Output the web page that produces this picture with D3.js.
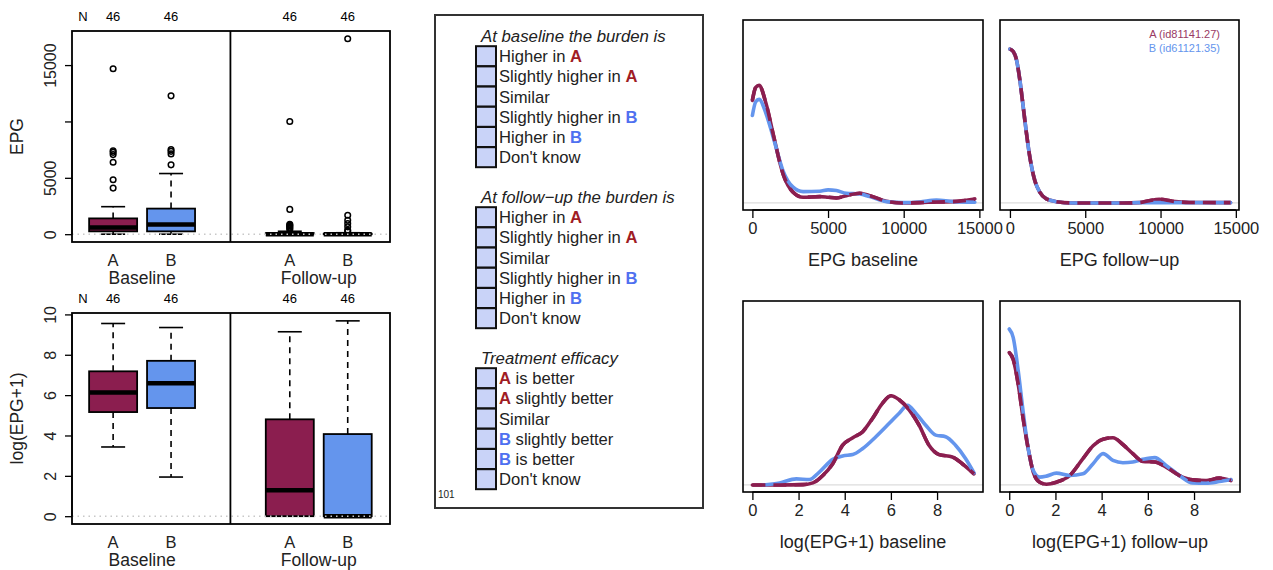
<!DOCTYPE html>
<html>
<head>
<meta charset="utf-8">
<script src="https://cdn.jsdelivr.net/npm/d3@7"></script>
<style>
  body { margin: 0; background: #fff; }
  svg text { font-family: "Liberation Sans", Arial, Helvetica, sans-serif; }
</style>
</head>
<body>
<svg id="chart" width="1273" height="570"></svg>
<script>
const colA = '#8b1e4f';
const colB = '#6495ed';

// ---- boxplot data ----
const boxLabels = ['A', 'B', 'A', 'B'];
const boxPos = [1, 2, 4.05, 5.05];
const timeLabels = ['Baseline', 'Follow-up'];
const nCounts = [46, 46, 46, 46];

const epgLow = [0, 0, 0, 0];
const epgQ1 = [250, 250, 0, 0];
const epgMed = [600, 850, 0, 0];
const epgQ3 = [1400, 2270, 90, 40];
const epgHigh = [2440, 5380, 260, 130];
const epgOut = [
  [4090, 4830, 6380, 7060, 7260, 7400, 14680],
  [6150, 7120, 7350, 7500, 12270],
  [400, 520, 620, 720, 800, 880, 2200, 10000],
  [250, 350, 650, 940, 1240, 1680, 17330]
];
const epgTicks = [0, 5000, 10000, 15000];
const epgTickLabels = ['0', '5000', '', '15000'];

const logLow = [3.43, 1.94, 0, 0];
const logQ1 = [5.16, 5.36, 0, 0];
const logMed = [6.13, 6.59, 1.28, 0];
const logQ3 = [7.18, 7.70, 4.80, 4.07];
const logHigh = [9.55, 9.35, 9.14, 9.68];
const logTicks = [0, 2, 4, 6, 8, 10];
const logTickLabels = ['0', '2', '4', '6', '8', '10'];

// ---- density data (relative density) ----
const epgBaseX = [0, 220, 440, 900, 1365, 2025, 2690, 3350, 4450, 5000, 5550, 6210, 7090, 7750, 8850, 9960, 11060, 12160, 13260, 14700];
const epgBaseA = [102, 115, 117, 99, 69, 29, 10.7, 5.7, 6.3, 5.7, 5, 7.3, 9.7, 7.3, 1.7, 0, 0.3, 1, 1.3, 4];
const epgBaseB = [87, 100.7, 103, 89, 66, 32, 15.7, 11.3, 11.7, 13, 12.3, 9.7, 9, 6.3, 1.3, 0.3, 1, 3, 1.3, 0.7];

const epgFollowX = [0, 220, 440, 660, 880, 1100, 1320, 1650, 1980, 2420, 3080, 4190, 5290, 7490, 8590, 9250, 9910, 10790, 11900, 14650];
const epgFollowA = [153, 150.7, 142, 122, 95.7, 69, 45.7, 22.3, 10.7, 4, 1.3, 0, 0, 0, 0.3, 2.3, 3.7, 1.7, 0.5, 0.3];
const epgFollowB = [153, 150.7, 142, 122, 95.7, 69, 45.7, 22.3, 10.7, 4, 1.3, 0, 0, 0, 0.3, 0.3, 0.3, 0.3, 0.3, 0.3];

const logBaseXA = [0, 1.18, 2.19, 2.62, 3.05, 3.48, 3.91, 4.35, 4.78, 5.21, 5.64, 6.0, 6.36, 6.79, 7.22, 7.65, 8.09, 8.66, 9.09, 9.6];
const logBaseA = [0, 0, 0.3, 2, 9.3, 21, 39.3, 46.7, 52.7, 66, 81, 88.3, 84.3, 74.3, 59.3, 39.3, 30, 27.7, 21, 11];
const logBaseXB = [0.46, 1.18, 1.9, 2.47, 2.9, 3.48, 3.91, 4.35, 4.78, 5.35, 5.93, 6.36, 6.72, 7.08, 7.5, 7.94, 8.37, 8.8, 9.24, 9.6];
const logBaseB = [0, 2, 6, 5.3, 12.7, 25.3, 28.7, 30, 36, 47.7, 61, 71, 78.7, 71, 59.3, 49.3, 47.7, 39.3, 26, 12];

const logFollowX = [0, 0.17, 0.39, 0.6, 0.82, 1.04, 1.32, 1.61, 2.04, 2.62, 3.19, 3.63, 4.06, 4.49, 4.92, 5.35, 5.78, 6.3, 6.79, 7.37, 7.94, 8.52, 9.09, 9.6];
const logFollowA = [131, 124.3, 99.3, 66, 36, 12.7, 2.7, 0.7, 2.7, 9.3, 26, 38.7, 45.3, 46.7, 40, 31, 23.3, 22.7, 17.7, 9.3, 5, 4.3, 6.7, 4.3];
const logFollowB = [154.3, 146, 112.7, 72.7, 36, 14.3, 7.7, 8.7, 11.7, 9.3, 11, 21, 31, 24.3, 22, 22.7, 25.3, 27, 19.3, 9.3, 2, 1.7, 3.3, 5.3];

const epgDensTicks = [0, 5000, 10000, 15000];
const logDensTicks = [0, 2, 4, 6, 8];
const legendLabels = ['A (id81141.27)', 'B (id61121.35)'];

// ---- questionnaire text ----
const sections = [
  { title: 'At baseline the burden is', y: 36,
    items: [['Higher in ', 'A', ''], ['Slightly higher in ', 'A', ''], ['Similar', '', ''],
            ['Slightly higher in ', 'B', ''], ['Higher in ', 'B', ''], ["Don't know", '', '']] },
  { title: 'At follow\u2212up the burden is', y: 197,
    items: [['Higher in ', 'A', ''], ['Slightly higher in ', 'A', ''], ['Similar', '', ''],
            ['Slightly higher in ', 'B', ''], ['Higher in ', 'B', ''], ["Don't know", '', '']] },
  { title: 'Treatment efficacy', y: 358,
    items: [['', 'A', ' is better'], ['', 'A', ' slightly better'], ['Similar', '', ''],
            ['', 'B', ' slightly better'], ['', 'B', ' is better'], ["Don't know", '', '']] }
];

const svg = d3.select('#chart');
svg.append('rect').attr('width', 1273).attr('height', 570).attr('fill', '#fff');

// ================= boxplots =================
function boxPanel(f, yDomain, ticks, tickLabels, yTitle, low, q1, med, q3, high, outs) {
  const g = svg.append('g');
  const x = d3.scaleLinear().domain([0.29, 5.78]).range([f.x0, f.x1]);
  const y = d3.scaleLinear().domain(yDomain).range([f.y1, f.y0]);
  const hw = 24;

  boxPos.forEach((p, i) => {
    const cx = x(p);
    const fill = i % 2 === 0 ? colA : colB;
    // whiskers
    [[q3[i], high[i]], [q1[i], low[i]]].forEach(([a, b]) => {
      if (a === b) return;
      g.append('line').attr('x1', cx).attr('x2', cx).attr('y1', y(a)).attr('y2', y(b))
        .attr('stroke', '#000').attr('stroke-width', 1.6).attr('stroke-dasharray', '6,5');
    });
    [high[i], low[i]].forEach(v => {
      g.append('line').attr('x1', cx - hw / 2).attr('x2', cx + hw / 2).attr('y1', y(v)).attr('y2', y(v))
        .attr('stroke', '#000').attr('stroke-width', 1.6);
    });
    g.append('rect').attr('x', cx - hw).attr('width', 2 * hw)
      .attr('y', y(q3[i])).attr('height', Math.max(0.5, y(q1[i]) - y(q3[i])))
      .attr('fill', fill).attr('stroke', '#000').attr('stroke-width', 1.8);
    g.append('line').attr('x1', cx - hw).attr('x2', cx + hw).attr('y1', y(med[i])).attr('y2', y(med[i]))
      .attr('stroke', '#000').attr('stroke-width', 4.5);
    if (outs) {
      outs[i].forEach(v => {
        g.append('circle').attr('cx', cx).attr('cy', y(v)).attr('r', 2.8)
          .attr('fill', 'none').attr('stroke', '#000').attr('stroke-width', 1.5);
      });
    }
    g.append('text').attr('x', cx).attr('y', f.y0 - 10).attr('text-anchor', 'middle')
      .attr('font-size', 13).text(nCounts[i]);
    g.append('text').attr('x', cx).attr('y', f.y1 + 24).attr('text-anchor', 'middle')
      .attr('font-size', 16.5).attr('fill', '#222').text(boxLabels[i]);
  });
  g.append('text').attr('x', f.x0 + 11).attr('y', f.y0 - 10).attr('text-anchor', 'middle')
    .attr('font-size', 13).text('N');

  // zero reference line
  g.append('line').attr('x1', f.x0).attr('x2', f.x1).attr('y1', y(0)).attr('y2', y(0))
    .attr('stroke', '#c8c8c8').attr('stroke-width', 1.5).attr('stroke-dasharray', '1.5,4');

  // frame + divider
  g.append('rect').attr('x', f.x0).attr('y', f.y0).attr('width', f.x1 - f.x0).attr('height', f.y1 - f.y0)
    .attr('fill', 'none').attr('stroke', '#000').attr('stroke-width', 1.8);
  const div = x((boxPos[1] + boxPos[2]) / 2);
  g.append('line').attr('x1', div).attr('x2', div).attr('y1', f.y0).attr('y2', f.y1)
    .attr('stroke', '#000').attr('stroke-width', 1.8);

  // group labels
  [0, 1].forEach(k => {
    const cx = (x(boxPos[2 * k]) + x(boxPos[2 * k + 1])) / 2;
    g.append('text').attr('x', cx).attr('y', f.y1 + 42).attr('text-anchor', 'middle')
      .attr('font-size', 17.5).attr('fill', '#222').text(timeLabels[k]);
  });

  // y axis
  const ax = g.append('g').attr('transform', `translate(${f.x0},0)`)
    .call(d3.axisLeft(y).tickValues(ticks).tickSize(7).tickPadding(0)
      .tickFormat((d, i) => tickLabels[i]));
  ax.select('.domain').attr('d', `M0,${y(ticks[0])}V${y(ticks[ticks.length - 1])}`)
    .attr('stroke', '#000').attr('stroke-width', 1.3);
  ax.selectAll('.tick line').attr('stroke', '#000').attr('stroke-width', 1.3);
  ax.selectAll('.tick text').attr('font-size', 16).attr('fill', '#222')
    .attr('x', 0).attr('dy', null).attr('text-anchor', 'middle')
    .attr('transform', 'translate(-22,0) rotate(-90)')
    .attr('dominant-baseline', 'central');
  ax.attr('font-family', null);

  g.append('text').attr('transform', `translate(17,${(f.y0 + f.y1) / 2}) rotate(-90)`)
    .attr('text-anchor', 'middle').attr('dominant-baseline', 'central')
    .attr('font-size', 17.5).attr('fill', '#222').text(yTitle);
}

boxPanel({ x0: 72, x1: 390, y0: 31, y1: 242 }, [-693, 18023], epgTicks, epgTickLabels, 'EPG',
  epgLow, epgQ1, epgMed, epgQ3, epgHigh, epgOut);
boxPanel({ x0: 72, x1: 390, y0: 313, y1: 524 }, [-0.387, 10.07], logTicks, logTickLabels, 'log(EPG+1)',
  logLow, logQ1, logMed, logQ3, logHigh, null);

// ================= questionnaire =================
const q = svg.append('g');
q.append('rect').attr('x', 435).attr('y', 15).attr('width', 268).attr('height', 493)
  .attr('fill', '#fff').attr('stroke', '#333').attr('stroke-width', 2);
sections.forEach(s => {
  q.append('text').attr('x', 481).attr('y', s.y).attr('dominant-baseline', 'central')
    .attr('font-size', 16.8).attr('font-style', 'italic').attr('fill', '#222').text(s.title);
  s.items.forEach((it, i) => {
    const cy = s.y + 20.2 * (i + 1);
    q.append('rect').attr('x', 476).attr('y', cy - 10).attr('width', 20).attr('height', 20)
      .attr('fill', '#c9d3f8').attr('stroke', '#111').attr('stroke-width', 2);
    const t = q.append('text').attr('x', 499).attr('y', cy).attr('dominant-baseline', 'central')
      .attr('font-size', 16.6).attr('fill', '#222');
    if (it[0]) t.append('tspan').text(it[0]);
    if (it[1]) t.append('tspan').attr('font-weight', 'bold')
      .attr('fill', it[1] === 'A' ? '#a01c24' : '#4f70f0').text(it[1]);
    if (it[2]) t.append('tspan').text(it[2]);
  });
});
q.append('text').attr('x', 438).attr('y', 494).attr('dominant-baseline', 'central')
  .attr('font-size', 10).attr('fill', '#222').text('101');

// ================= densities =================
function densPanel(f, xDomain, ticks, title, xsA, vA, xsB, vB, legend) {
  const g = svg.append('g');
  const x = d3.scaleLinear().domain(xDomain).range([f.x0, f.x1]);
  const y = d3.scaleLinear().domain([-7, 182]).range([f.y1, f.y0]);
  const clipId = 'clip' + Math.round(f.x0) + Math.round(f.y0);
  g.append('clipPath').attr('id', clipId).append('rect')
    .attr('x', f.x0).attr('y', f.y0).attr('width', f.x1 - f.x0).attr('height', f.y1 - f.y0);

  g.append('line').attr('x1', f.x0).attr('x2', f.x1).attr('y1', y(0)).attr('y2', y(0))
    .attr('stroke', '#dcdcdc').attr('stroke-width', 1.2);

  const line = d3.line().x(d => x(d[0])).y(d => y(d[1])).curve(d3.curveMonotoneX);
  const ptsA = xsA.map((v, i) => [v, vA[i]]);
  const ptsB = xsB.map((v, i) => [v, vB[i]]);
  const lg = g.append('g').attr('clip-path', `url(#${clipId})`).attr('fill', 'none').attr('stroke-width', 3.6);
  lg.append('path').attr('d', line(ptsA)).attr('stroke', colA).attr('stroke-linecap', 'round');
  lg.append('path').attr('d', line(ptsB)).attr('stroke', colB).attr('stroke-linecap', 'round');
  lg.append('path').attr('d', line(ptsA)).attr('stroke', colA).attr('stroke-dasharray', '13,8');

  g.append('rect').attr('x', f.x0).attr('y', f.y0).attr('width', f.x1 - f.x0).attr('height', f.y1 - f.y0)
    .attr('fill', 'none').attr('stroke', '#000').attr('stroke-width', 1.6);

  const ax = g.append('g').attr('transform', `translate(0,${f.y1})`)
    .call(d3.axisBottom(x).tickValues(ticks).tickSize(8).tickPadding(4).tickFormat(d3.format('d')));
  ax.attr('font-family', null);
  ax.select('.domain').attr('d', `M${x(ticks[0])},0H${x(ticks[ticks.length - 1])}`)
    .attr('stroke', '#000').attr('stroke-width', 1.3);
  ax.selectAll('.tick line').attr('stroke', '#000').attr('stroke-width', 1.3);
  ax.selectAll('.tick text').attr('font-size', 16.5).attr('fill', '#222');

  g.append('text').attr('x', (f.x0 + f.x1) / 2).attr('y', f.y1 + 56).attr('text-anchor', 'middle')
    .attr('font-size', 18).attr('fill', '#222').text(title);

  if (legend) {
    legend.forEach((t, i) => {
      g.append('text').attr('x', f.x1 - 19).attr('y', f.y0 + 14 + 14 * i).attr('text-anchor', 'end')
        .attr('dominant-baseline', 'central').attr('font-size', 11)
        .attr('fill', i === 0 ? '#9a3a64' : colB).text(t);
    });
  }
}

densPanel({ x0: 743, x1: 983, y0: 20, y1: 210 }, [-620, 15240], epgDensTicks, 'EPG baseline',
  epgBaseX, epgBaseA, epgBaseX, epgBaseB, null);
densPanel({ x0: 1000, x1: 1239, y0: 20, y1: 210 }, [-660, 15210], epgDensTicks, 'EPG follow\u2212up',
  epgFollowX, epgFollowA, epgFollowX, epgFollowB, legendLabels);
densPanel({ x0: 743, x1: 983, y0: 301, y1: 492 }, [-0.407, 9.99], logDensTicks, 'log(EPG+1) baseline',
  logBaseXA, logBaseA, logBaseXB, logBaseB, null);
densPanel({ x0: 1000, x1: 1240, y0: 301, y1: 492 }, [-0.4, 9.99], logDensTicks, 'log(EPG+1) follow\u2212up',
  logFollowX, logFollowA, logFollowX, logFollowB, null);
</script>
</body>
</html>
